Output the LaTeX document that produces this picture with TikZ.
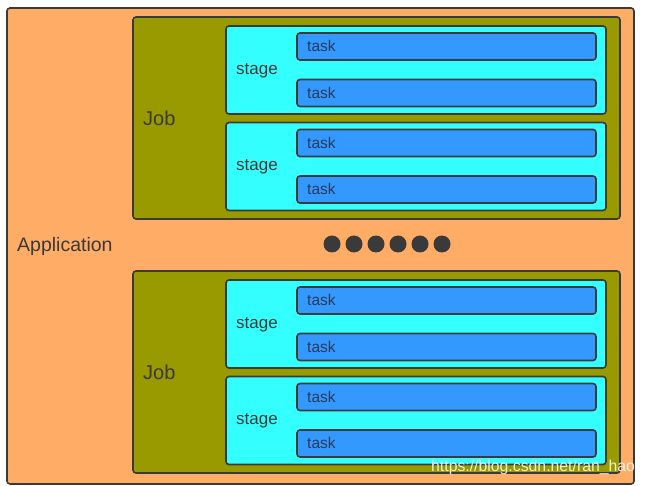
\documentclass[tikz,border=0pt]{standalone}
\usepackage{fontspec}
\setmainfont{Liberation Sans}
\definecolor{appc}{HTML}{FFAD66}
\definecolor{jobc}{HTML}{999900}
\definecolor{stagec}{HTML}{33FFFF}
\definecolor{taskc}{HTML}{3399FF}
\definecolor{edgec}{HTML}{3A3A3A}
\definecolor{txtc}{HTML}{3A3A3A}
\definecolor{tasktxt}{HTML}{2A3A5A}
\begin{document}
\begin{tikzpicture}[x=1pt,y=-1pt,
  box/.style={draw=edgec,line width=1.6pt,rounded corners=3pt},
  lbl/.style={text=txtc,inner sep=0pt,anchor=west},
  tasklbl/.style={text=tasktxt,inner sep=0pt,anchor=west,font=\fontsize{15.5}{17}\selectfont},
  dotc/.style={fill=edgec,circle,minimum size=17pt,inner sep=0pt}]
\useasboundingbox (0,0) rectangle (645,486);
\fill[white] (0,0) rectangle (645,486);
% application
\draw[box,fill=appc] (7,8) rectangle (634,484);
\node[lbl,font=\fontsize{19.5}{22}\selectfont] (app) at (17,246.5) {Application};
% jobs
\foreach \j/\jy in {1/0,2/254}{
  \draw[box,fill=jobc] (133,17+\jy) rectangle (620,219+\jy);
  \node[lbl,font=\fontsize{20}{22}\selectfont] (job\j) at (143,118+\jy) {Job};
  \foreach \s/\sy in {1/0,2/96.5}{
    \draw[box,fill=stagec] (226,26+\jy+\sy) rectangle (606,114+\jy+\sy);
    \node[lbl,font=\fontsize{17}{19}\selectfont] (stage\j\s) at (236,70.5+\jy+\sy) {stage};
    \foreach \t/\ty in {1/0,2/46.5}{
      \draw[box,fill=taskc] (297,33+\jy+\sy+\ty) rectangle (596,60+\jy+\sy+\ty);
      \node[tasklbl] (task\j\s\t) at (307,46+\jy+\sy+\ty) {task};
    }
  }
}
% dots
\foreach \i in {0,...,5}{
  \node[dotc] (dot\i) at (332+22*\i,244) {};
}
% watermark
\node[text=white,opacity=0.85,anchor=west,inner sep=0pt,font=\fontsize{15.8}{18}\selectfont] (wm) at (431,467) {https://blog.csdn.net/ran\_hao};
\end{tikzpicture}
\end{document}
